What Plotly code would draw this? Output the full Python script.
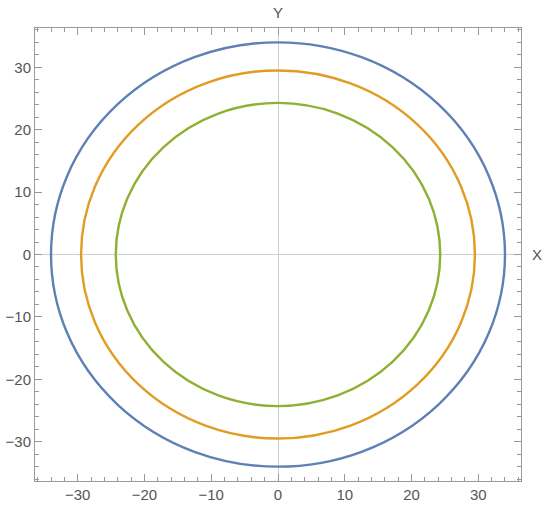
import plotly.graph_objects as go

radii = [34.0, 29.5, 24.3]
colors = ["#5E81B5", "#E19C24", "#8FB032"]
x_range = [-36.4, 36.4]
y_range = [-36.3, 36.3]

fig = go.Figure()
# invisible trace to establish axes
fig.add_trace(go.Scatter(x=[x_range[0], x_range[1]], y=[y_range[0], y_range[1]],
                         mode="markers", marker=dict(opacity=0), showlegend=False,
                         hoverinfo="skip"))
for r, c in zip(radii, colors):
    fig.add_shape(type="circle", xref="x", yref="y", x0=-r, x1=r, y0=-r, y1=r,
                  line=dict(color=c, width=2.4))

axis_common = dict(
    showgrid=False, zeroline=True, zerolinecolor="#cfcfcf", zerolinewidth=1,
    showline=True, linecolor="#999999", linewidth=1, mirror="ticks",
    ticks="inside", ticklen=7, tickcolor="#999999", tickwidth=1,
    dtick=10, tick0=0, automargin=False,
    minor=dict(ticks="inside", ticklen=4, dtick=2, tickcolor="#999999", tickwidth=1),
    tickfont=dict(family="Liberation Sans, Arial", size=15, color="#555555"),
)
fig.update_xaxes(range=x_range, **axis_common)
fig.update_yaxes(range=y_range, **axis_common)

fig.add_annotation(text="X", xref="paper", yref="y", x=1.0, y=0, xanchor="left",
                   xshift=9, showarrow=False,
                   font=dict(family="Liberation Sans, Arial", size=15, color="#555555"))
fig.add_annotation(text="Y", xref="x", yref="paper", x=0, y=1.0, yanchor="bottom",
                   yshift=5, showarrow=False,
                   font=dict(family="Liberation Sans, Arial", size=15, color="#555555"))

fig.update_layout(width=550, height=506, margin=dict(l=35, r=29, t=28, b=25),
                  plot_bgcolor="white", paper_bgcolor="white", showlegend=False)
fig.write_html("out.html", config={"displayModeBar": False},
               post_script="document.body.style.margin='0';document.body.style.overflow='hidden';")
